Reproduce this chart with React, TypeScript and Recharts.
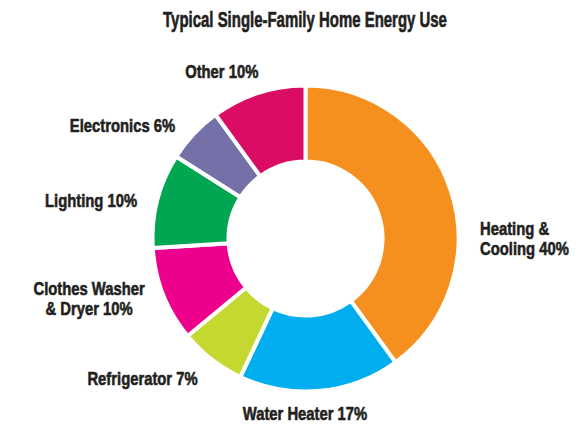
import React from "react";
import { PieChart, Pie, Cell } from "recharts";

const categories = [
  "Heating & Cooling",
  "Water Heater",
  "Refrigerator",
  "Clothes Washer & Dryer",
  "Lighting",
  "Electronics",
  "Other",
];
const values = [40, 17, 7, 10, 10, 6, 10];
const colors = ["#F5901F", "#00AEEF", "#C4D82F", "#EC008C", "#00A651", "#7471A8", "#DB0C64"];
const title = "Typical Single-Family Home Energy Use";

// label layout (style): offset from the library-computed point, words on line 1, anchor
const labelStyle = [
  { dx: -23.3, dy: 60.8, wrap: 2, anchor: "start" },
  { dx: -20.1, dy: -25.6, wrap: 0, anchor: "middle" },
  { dx: -35.5, dy: -17.9, wrap: 0, anchor: "middle" },
  { dx: -23.0, dy: -20.1, wrap: 2, anchor: "middle" },
  { dx: -13.0, dy: 20.5, wrap: 0, anchor: "middle" },
  { dx: -31.4, dy: 36.2, wrap: 0, anchor: "middle" },
  { dx: -19.5, dy: 37.0, wrap: 0, anchor: "middle" },
];

const data = categories.map((name, i) => ({ name, value: values[i] }));

const FONT = "'Liberation Sans', Arial, sans-serif";
const TEXT = "#231F20";
const RAD = Math.PI / 180;
const SQUEEZE = 0.8;

const renderLabel = (props: any) => {
  const { cx, cy, midAngle, outerRadius, index, name, value } = props;
  const r = outerRadius + 55;
  const x = cx + r * Math.cos(-midAngle * RAD);
  const y = cy + r * Math.sin(-midAngle * RAD);
  const st = labelStyle[index];
  const words = `${name} ${value}%`.split(" ");
  const lines = st.wrap > 0 ? [words.slice(0, st.wrap).join(" "), words.slice(st.wrap).join(" ")] : [words.join(" ")];
  return (
    <text
      key={`lbl-${index}`}
      transform={`translate(${x + st.dx},${y + st.dy}) scale(${SQUEEZE},1)`}
      x={0}
      y={0}
      textAnchor={st.anchor}
      fill={TEXT}
      stroke={TEXT}
      strokeWidth={0.6}
      style={{ fontFamily: FONT, fontWeight: 700, fontSize: 18.5 }}
    >
      {lines.map((l, k) => (
        <tspan key={k} x={0} dy={k === 0 ? 0 : 20}>
          {l}
        </tspan>
      ))}
    </text>
  );
};

export default function App() {
  return (
    <div style={{ position: "absolute", left: 0, top: 0, width: 586, height: 425, background: "#fff" }}>
      <svg width={586} height={40} style={{ position: "absolute", left: 0, top: 0 }}>
        <text
          transform="translate(305,27) scale(0.68,1)"
          textAnchor="middle"
          fill={TEXT}
          stroke={TEXT}
          strokeWidth={0.6}
          style={{ fontFamily: FONT, fontWeight: 700, fontSize: 22 }}
        >
          {title}
        </text>
      </svg>
      <div style={{ position: "absolute", left: 0, top: 0 }}>
        <PieChart width={586} height={425} margin={{ top: 0, right: 0, bottom: 0, left: 0 }}>
          <Pie
            data={data}
            dataKey="value"
            nameKey="name"
            cx={305.5}
            cy={238.5}
            innerRadius={77}
            outerRadius={153}
            startAngle={90}
            endAngle={-270}
            stroke="#ffffff"
            strokeWidth={4}
            label={renderLabel}
            labelLine={false}
            isAnimationActive={false}
          >
            {data.map((d, i) => (
              <Cell key={d.name} fill={colors[i]} />
            ))}
          </Pie>
        </PieChart>
      </div>
    </div>
  );
}
